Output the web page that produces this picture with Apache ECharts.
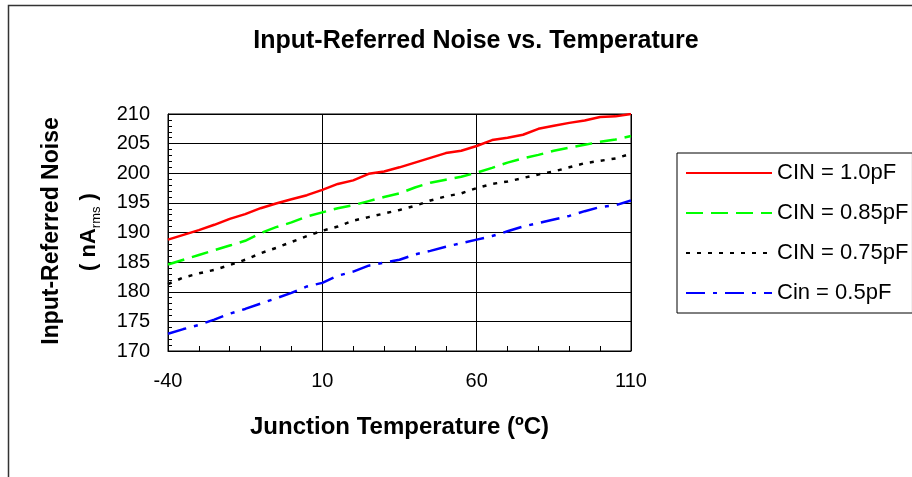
<!DOCTYPE html>
<html>
<head>
<meta charset="utf-8">
<script src="https://cdn.jsdelivr.net/npm/echarts@6/dist/echarts.min.js"></script>
<style>
  html, body { margin: 0; padding: 0; background: #fff; }
  #main { width: 912px; height: 477px; }
</style>
</head>
<body>
<div id="main"></div>
<script>
// 结温 (ºC)
var temps = [-40, -35, -30, -25, -20, -15, -10, -5, 0, 5, 10, 15, 20, 25, 30, 35,
             40, 45, 50, 55, 60, 65, 70, 75, 80, 85, 90, 95, 100, 105, 110];
// 输入噪声 nA rms
var cin10 = [188.8, 189.6, 190.4, 191.3, 192.3, 193.1, 194.1, 194.9, 195.6, 196.3, 197.2,
             198.2, 198.8, 199.9, 200.3, 201.0, 201.8, 202.6, 203.4, 203.8, 204.6,
             205.6, 206.0, 206.5, 207.5, 208.0, 208.5, 208.9, 209.5, 209.6, 210.0];
var cin085 = [184.6, 185.4, 186.2, 187.0, 187.8, 188.6, 189.9, 190.9, 191.7, 192.7, 193.4,
              194.1, 194.6, 195.3, 196.0, 196.6, 197.6, 198.4, 198.9, 199.4, 200.1,
              200.9, 201.8, 202.5, 203.1, 203.8, 204.3, 204.8, 205.3, 205.7, 206.3];
var cin075 = [181.3, 182.4, 183.1, 183.7, 184.5, 185.4, 186.5, 187.4, 188.4, 189.4, 190.3,
              191.0, 192.0, 192.6, 193.2, 193.8, 194.5, 195.4, 196.1, 196.6, 197.5,
              198.2, 198.6, 199.2, 199.8, 200.3, 201.0, 201.7, 202.1, 202.5, 203.3];
var cin05 = [172.9, 173.7, 174.4, 175.3, 176.3, 177.1, 178.0, 178.9, 179.8, 180.9, 181.5,
             182.7, 183.4, 184.4, 184.9, 185.4, 186.3, 186.9, 187.6, 188.2, 188.8,
             189.4, 190.2, 191.0, 191.6, 192.2, 192.8, 193.6, 194.3, 194.6, 195.4];
var seriesNames = ['CIN = 1.0pF', 'CIN = 0.85pF', 'CIN = 0.75pF', 'Cin = 0.5pF'];

function pairs(ys) {
    return temps.map(function (t, i) { return [t, ys[i]]; });
}

var font = 'Liberation Sans, Arial, sans-serif';
var myChart = echarts.init(document.getElementById('main'));

var option = {
    animation: false,
    backgroundColor: '#fff',
    title: {
        text: 'Input-Referred Noise vs. Temperature',
        left: 471,
        top: 24,
        textAlign: 'center',
        textStyle: { fontFamily: font, fontSize: 25, fontWeight: 'bold', color: '#000' }
    },
    graphic: [
        {   // 外框
            type: 'rect',
            shape: { x: 8.5, y: 5.5, width: 1000, height: 1000 },
            style: { fill: 'none', stroke: '#333', lineWidth: 1.5 },
            silent: true
        },
        {
            type: 'text',
            x: 52, y: 231, rotation: Math.PI / 2,
            style: {
                text: 'Input-Referred Noise',
                font: 'bold 23px ' + font,
                fill: '#000',
                align: 'center',
                verticalAlign: 'middle'
            }
        },
        {
            type: 'text',
            x: 89, y: 232, rotation: Math.PI / 2,
            style: {
                text: '{b|( nA}{s|rms}{b| )}',
                align: 'center',
                verticalAlign: 'middle',
                rich: {
                    b: { fontFamily: font, fontSize: 22, fontWeight: 'bold', fill: '#000', lineHeight: 32, verticalAlign: 'middle' },
                    s: { fontFamily: font, fontSize: 13, fill: '#000', lineHeight: 32, verticalAlign: 'bottom', padding: [0, 0, 2, 0] }
                }
            }
        }
    ],
    legend: {
        data: seriesNames,
        orient: 'vertical',
        left: 677,
        top: 153,
        padding: [9, 4, 9, 8],
        itemWidth: 86,
        itemHeight: 14,
        itemGap: 18,
        borderColor: '#000',
        borderWidth: 1,
        itemStyle: { opacity: 0 },
        textStyle: { fontFamily: font, fontSize: 22, color: '#000' }
    },
    grid: {
        left: 168,
        top: 114,
        right: 281,
        bottom: 126,
        show: true,
        borderColor: '#000',
        borderWidth: 1
    },
    xAxis: {
        type: 'value',
        min: -40,
        max: 110,
        interval: 50,
        name: 'Junction Temperature (ºC)',
        nameLocation: 'middle',
        nameGap: 64,
        nameTextStyle: { fontFamily: font, fontSize: 24, fontWeight: 'bold', color: '#000' },
        axisLine: { onZero: false, lineStyle: { color: '#000', width: 1 } },
        axisTick: { show: true, inside: true, length: 5, lineStyle: { color: '#000' } },
        minorTick: { show: true, splitNumber: 5, length: 5, lineStyle: { color: '#000' } },
        splitLine: { show: true, lineStyle: { color: '#000', width: 1 } },
        axisLabel: { margin: 20, fontFamily: font, fontSize: 20, color: '#000' }
    },
    yAxis: {
        type: 'value',
        min: 170,
        max: 210,
        interval: 5,
        axisLine: { show: true, onZero: false, lineStyle: { color: '#000', width: 1 } },
        axisTick: { show: true, inside: true, length: 5, lineStyle: { color: '#000' } },
        minorTick: { show: true, splitNumber: 5, length: 4, lineStyle: { color: '#000' } },
        splitLine: { show: true, lineStyle: { color: '#000', width: 1 } },
        axisLabel: { margin: 18, fontFamily: font, fontSize: 20, color: '#000' }
    },
    series: [
        {
            name: seriesNames[0], type: 'line', data: pairs(cin10),
            symbol: 'none', color: '#ff0000',
            lineStyle: { color: '#ff0000', width: 2.5, type: 'solid' }
        },
        {
            name: seriesNames[1], type: 'line', data: pairs(cin085),
            symbol: 'none', color: '#00ff00',
            lineStyle: { color: '#00ff00', width: 2.5, type: [17, 8] }
        },
        {
            name: seriesNames[2], type: 'line', data: pairs(cin075),
            symbol: 'none', color: '#000000',
            lineStyle: { color: '#000000', width: 2.5, type: [4, 7] }
        },
        {
            name: seriesNames[3], type: 'line', data: pairs(cin05),
            symbol: 'none', color: '#0000ff',
            lineStyle: { color: '#0000ff', width: 2.5, type: [19, 8, 4, 8] }
        }
    ]
};
myChart.setOption(option);
</script>
</body>
</html>
